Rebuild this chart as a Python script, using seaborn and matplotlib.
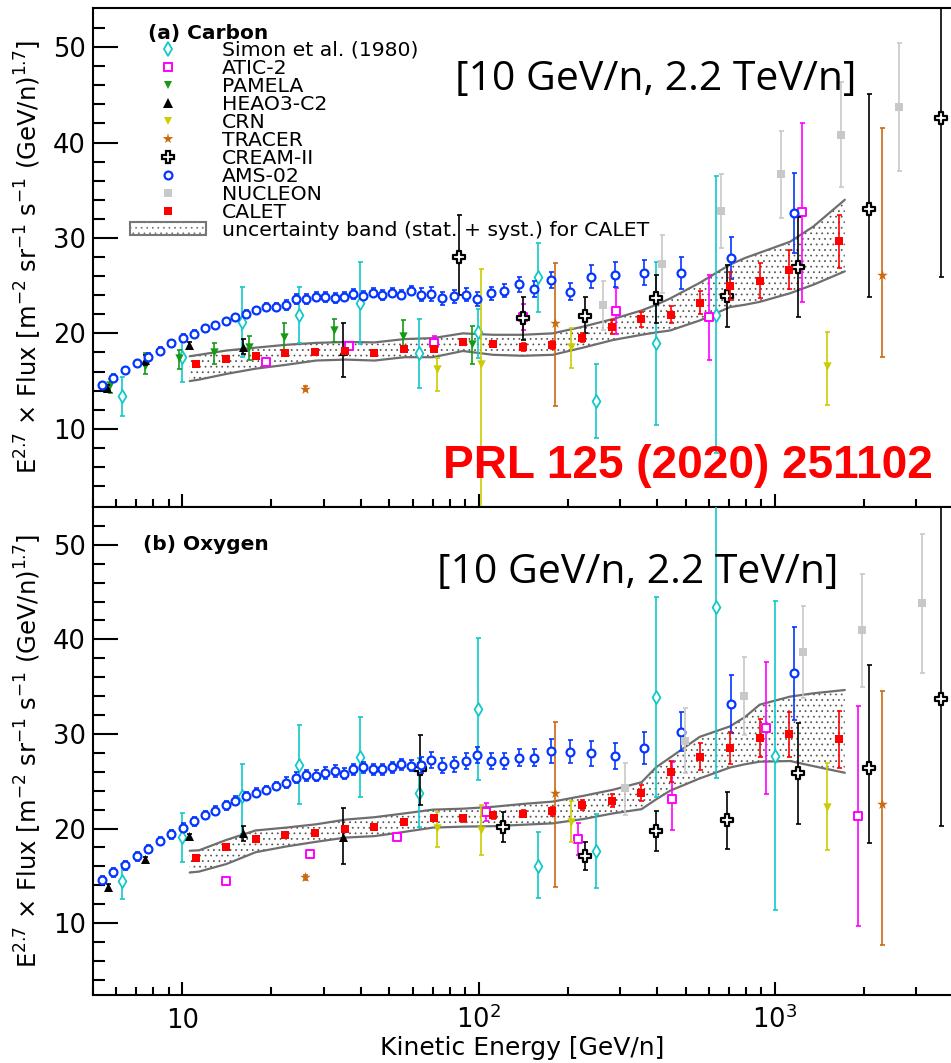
import numpy as np
import matplotlib
matplotlib.use("Agg")
import matplotlib.pyplot as plt
import seaborn as sns
from matplotlib.patches import Patch
from matplotlib.lines import Line2D
from matplotlib.ticker import FixedLocator, LogLocator, NullFormatter, FixedFormatter

# ---------------- data ----------------
# CALET bins (same for C and O)
calet_e = [11.15, 14.08, 17.74, 22.3, 28.1, 35.3, 44.4, 56.0, 70.5, 88.9, 112, 141,
           177, 224, 282, 354, 445, 561, 705, 890, 1117, 1648]
calet_c = [16.74, 17.29, 17.61, 17.96, 18.03, 18.1, 17.96, 18.38, 18.38, 19.08, 18.9, 18.59,
           18.8, 19.56, 20.65, 21.48, 21.94, 23.23, 24.97, 25.53, 26.65, 29.65]
calet_c_err = [0.2, 0.2, 0.2, 0.2, 0.2, 0.2, 0.25, 0.25, 0.3, 0.3, 0.35, 0.4,
               0.4, 0.45, 0.7, 0.8, 0.9, 1.2, 1.5, 1.8, 2.05, 2.8]
calet_o = [16.91, 18.0, 18.92, 19.27, 19.56, 19.98, 20.16, 20.69, 21.07, 21.07, 21.39, 21.57,
           21.82, 22.49, 22.94, 23.72, 26.01, 27.6, 28.48, 29.57, 29.96, 29.43]
calet_o_err = [0.2, 0.2, 0.2, 0.2, 0.25, 0.25, 0.25, 0.3, 0.3, 0.35, 0.35, 0.4,
               0.45, 0.55, 0.7, 0.85, 1.1, 1.4, 1.7, 2.05, 2.4, 3.0]

# CALET uncertainty band
band_e = [10.6, 11.4, 14.1, 17.7, 22.4, 28.3, 35.7, 44.6, 56.2, 70.1, 88.5, 112, 141, 178,
          225, 284, 355, 398, 443, 558, 705, 793, 889, 1125, 1349, 1722]
band_c_hi = [17.6, 17.75, 18.2, 18.5, 18.8, 19.0, 19.1, 19.05, 19.4, 19.5, 20.0, 19.85, 19.85, 20.0,
             20.7, 21.5, 22.4, 23.0, 23.65, 25.3, 27.2, 27.9, 28.45, 29.6, 31.2, 34.0]
band_c_lo = [15.0, 15.15, 15.75, 16.3, 16.7, 17.15, 17.25, 17.15, 17.5, 17.5, 18.15, 17.75, 17.65, 17.75,
             18.5, 19.3, 19.85, 20.1, 20.3, 21.35, 22.75, 23.0, 23.3, 24.2, 25.1, 26.5]
band_o_hi = [17.65, 17.7, 18.8, 19.8, 20.1, 20.45, 20.95, 21.2, 21.6, 22.0, 22.1, 22.3, 22.6, 22.85,
             23.45, 24.1, 24.9, 26.5, 27.5, 29.7, 30.8, 31.8, 33.1, 33.95, 34.3, 34.65]
band_o_lo = [15.35, 15.45, 16.25, 17.5, 18.1, 18.6, 19.05, 19.2, 19.65, 20.1, 20.2, 20.25, 20.4, 20.55,
             21.0, 21.6, 22.05, 23.1, 24.0, 25.3, 26.45, 26.8, 27.07, 27.14, 26.6, 25.9]

# AMS-02 (same bins for C and O)
ams_e = [5.35, 5.86, 6.42, 7.06, 7.69, 8.43, 9.2, 10.05, 10.98, 11.9, 12.9, 14.0, 15.1, 16.4,
         17.7, 19.2, 20.8, 22.4, 24.2, 26.1, 28.2, 30.4, 32.7, 35.1, 37.8, 40.8, 43.9, 47.3,
         51.0, 54.9, 59.2, 64.0, 69.2, 75.4, 82.5, 90.4, 98.9, 110, 122, 137, 154, 176, 203,
         239, 289, 362, 481, 711, 1159]
ams_c = [14.54, 15.34, 16.11, 16.88, 17.57, 18.2, 18.94, 19.56, 19.95, 20.54, 20.89, 21.27, 21.69, 22.08,
         22.43, 22.78, 22.8, 22.98, 23.58, 23.6, 23.86, 23.79, 23.72, 23.86, 24.14, 23.96, 24.28, 24.0,
         24.28, 24.07, 24.49, 24.07, 24.14, 23.68, 23.89, 24.07, 23.61, 24.2, 24.49, 25.15, 24.66, 25.57,
         24.38, 25.92, 26.13, 26.37, 26.3, 27.94, 32.59]
ams_c_err = [0.35] * 17 + [0.5] * 14 + [0.7] * 8 + [0.8, 0.8, 0.85, 0.9, 1.2, 1.3, 1.35, 1.7, 2.2, 4.2]
ams_o = [14.55, 15.36, 16.1, 17.05, 17.83, 18.68, 19.38, 20.09, 20.76, 21.43, 21.89, 22.45, 22.94, 23.44,
         23.79, 24.07, 24.5, 24.85, 25.38, 25.62, 25.59, 25.87, 26.08, 25.8, 26.26, 26.47, 26.26, 26.26,
         26.47, 26.79, 26.65, 26.72, 27.25, 26.65, 26.79, 27.14, 27.78, 27.14, 27.14, 27.49, 27.49, 28.23,
         28.13, 27.95, 27.67, 28.48, 30.25, 33.17, 36.42]
ams_o_err = [0.45] * 17 + [0.6] * 14 + [0.8] * 8 + [0.9, 0.9, 1.25, 1.25, 1.3, 1.4, 1.7, 2.1, 3.1, 4.9]

# Simon et al. (1980)
simon_c_e = [6.25, 9.97, 15.95, 24.8, 39.9, 62.8, 99.6, 158.7, 250, 398, 632]
simon_c = [13.39, 17.5, 21.24, 21.94, 23.16, 17.92, 20.1, 25.95, 12.93, 18.97, 21.94]
simon_c_hi = [15.41, 19.14, 24.9, 24.9, 27.45, 21.52, 22.53, 29.44, 16.8, 27.52, 36.49]
simon_c_lo = [11.36, 14.88, 17.57, 18.97, 18.87, 14.26, 17.4, 22.28, 9.02, 10.42, 7.45]
simon_o_e = [6.25, 9.97, 15.95, 24.8, 39.9, 62.8, 99.6, 158.7, 250, 398, 632, 1000]
simon_o = [14.44, 19.13, 23.4, 26.72, 27.53, 23.8, 32.61, 16.03, 17.62, 33.95, 43.4, 27.7]
simon_o_hi = [16.21, 21.6, 26.79, 30.95, 31.76, 27.42, 40.19, 19.66, 21.53, 44.53, 60.0, 44.11]
simon_o_lo = [12.5, 16.49, 19.4, 22.59, 23.3, 20.19, 25.13, 12.61, 13.67, 23.35, 25.31, 11.37]

# ATIC-2
atic_c_e = [19.17, 36.5, 71.0, 141, 290, 600, 1231]
atic_c = [16.95, 18.69, 19.04, 21.76, 22.39, 21.69, 32.69]
atic_c_hi = [17.2, 18.95, 19.7, 23.1, 24.73, 26.13, 42.08]
atic_c_lo = [16.7, 18.45, 18.4, 20.4, 19.95, 17.23, 23.33]
atic_o_e = [14.1, 27.0, 53.0, 105.6, 216.6, 450, 930, 1901]
atic_o = [14.44, 17.3, 19.06, 21.78, 18.85, 23.12, 30.6, 21.36]
atic_o_hi = [14.7, 17.6, 19.35, 22.66, 20.55, 27.07, 37.65, 32.96]
atic_o_lo = [14.2, 17.0, 18.8, 20.83, 17.2, 19.84, 23.65, 9.72]

# PAMELA (carbon only)
pamela_c_e = [5.69, 7.48, 9.77, 12.8, 16.8, 22.0, 32.6, 55.5, 95.2]
pamela_c = [14.54, 16.53, 17.4, 18.0, 18.55, 19.6, 20.37, 19.77, 18.86]
pamela_c_hi = [15.2, 17.92, 18.27, 19.04, 19.74, 21.07, 21.48, 21.41, 20.72]
pamela_c_lo = [13.8, 15.76, 16.28, 16.77, 17.23, 18.2, 19.14, 18.27, 16.77]

# HEAO3-C2
heao_c_e = [5.58, 7.48, 10.56, 16.07, 34.8]
heao_c = [14.29, 17.23, 18.8, 18.62, 18.1]
heao_c_hi = [14.55, 17.73, 19.05, 19.42, 21.13]
heao_c_lo = [14.05, 16.73, 18.55, 17.82, 15.41]
heao_o_e = [5.6, 7.48, 10.56, 16.07, 35.0]
heao_o = [13.84, 16.77, 19.2, 19.49, 19.14]
heao_o_hi = [14.1, 17.0, 19.45, 20.3, 22.13]
heao_o_lo = [13.6, 16.5, 18.95, 18.7, 16.24]

# CRN
crn_e = [72.5, 102, 205.6, 1503]
crn_c = [16.28, 16.8, 18.62, 16.53]
crn_c_hi = [17.4, 26.72, 20.54, 20.19]
crn_c_lo = [14.0, 0.5, 16.35, 12.51]
crn_o = [20.02, 19.84, 20.72, 22.31]
crn_o_hi = [21.78, 22.49, 22.91, 26.89]
crn_o_lo = [18.01, 17.2, 18.61, 17.72]

# TRACER
tracer_e = [25.9, 180.6, 2305]
tracer_c = [14.19, 21.06, 26.13]
tracer_c_hi = [14.45, 27.35, 41.48]
tracer_c_lo = [13.95, 12.34, 17.57]
tracer_o = [14.83, 23.79, 22.59]
tracer_o_hi = [15.1, 31.3, 34.59]
tracer_o_lo = [14.55, 13.84, 7.67]

# CREAM-II
cream_c_e = [85.8, 141, 228, 398, 690, 1199, 2083, 3628]
cream_c = [28.05, 21.59, 21.87, 23.69, 23.9, 27.0, 33.0, 42.53]
cream_c_hi = [32.4, 23.86, 23.79, 26.13, 27.17, 32.2, 45.05, 60.0]
cream_c_lo = [24.03, 19.32, 20.02, 21.13, 20.65, 21.76, 23.86, 25.95]
cream_o_e = [63.7, 121, 228, 396, 690, 1199, 2083, 3628]
cream_o = [26.26, 20.12, 17.09, 19.73, 20.86, 25.84, 26.44, 33.67]
cream_o_hi = [29.89, 21.71, 18.54, 21.85, 23.9, 31.2, 37.3, 60.0]
cream_o_lo = [22.49, 18.61, 15.61, 17.62, 17.83, 20.5, 18.43, 20.3]

# NUCLEON
nucleon_c_e = [263, 417, 660, 1048, 1667, 2630]
nucleon_c = [22.92, 27.24, 32.83, 36.67, 40.79, 43.75]
nucleon_c_hi = [25.5, 30.31, 36.7, 41.2, 46.37, 50.38]
nucleon_c_lo = [20.37, 24.2, 28.92, 32.06, 35.31, 37.05]
nucleon_o_e = [311, 497, 788, 1246, 1972, 3131]
nucleon_o = [24.25, 29.29, 34.05, 38.64, 41.0, 43.83]
nucleon_o_hi = [26.96, 32.72, 38.18, 43.55, 46.93, 51.16]
nucleon_o_lo = [21.43, 25.84, 29.89, 33.77, 35.01, 36.5]

legend_labels = ["Simon et al. (1980)", "ATIC-2", "PAMELA", "HEAO3-C2", "CRN", "TRACER",
                 "CREAM-II", "AMS-02", "NUCLEON", "CALET",
                 "uncertainty band (stat. + syst.) for CALET"]
x_ticks = [10, 100, 1000]
x_ticklabels = ["10", r"10$^{2}$", r"10$^{3}$"]
y_ticks = [10, 20, 30, 40, 50]

# ---------------- style ----------------
sns.set_theme(style="white")
plt.rcParams["font.family"] = ["DejaVu Sans"]
plt.rcParams["mathtext.fontset"] = "dejavusans"
plt.rcParams["hatch.linewidth"] = 0.55
plt.rcParams["hatch.color"] = "#555555"

CYAN = "#12C9C9"
MAGENTA = "#FF00FF"
GREEN = "#159A15"
YELLOW = "#CCCC00"
ORANGE = "#CC6A10"
BLUE = "#0536FF"
GRAY = "#C8C8C8"
RED = "#FF0000"
BAND_LINE = "#6E6E6E"

W, H = 951, 1063
fig = plt.figure(figsize=(W / 100, H / 100), dpi=100)
ax_c = fig.add_axes([93 / W, 1 - 507 / H, (982 - 93) / W, (507 - 8) / H])
ax_o = fig.add_axes([93 / W, 1 - 995 / H, (982 - 93) / W, (995 - 507) / H])

styles = {
    "simon":   dict(marker="d", s=44, fc="white", ec=CYAN, lw=1.3, color=CYAN, z=3.0),
    "atic":    dict(marker="s", s=26, fc="white", ec=MAGENTA, lw=1.4, color=MAGENTA, z=3.2),
    "pamela":  dict(marker="v", s=36, fc=GREEN, ec=GREEN, lw=0, color=GREEN, z=3.4),
    "heao":    dict(marker="^", s=42, fc="black", ec="black", lw=0, color="black", z=3.6),
    "crn":     dict(marker="v", s=36, fc=YELLOW, ec=YELLOW, lw=0, color=YELLOW, z=3.8),
    "tracer":  dict(marker="*", s=64, fc=ORANGE, ec=ORANGE, lw=0, color=ORANGE, z=4.0),
    "cream":   dict(marker="P", s=72, fc="white", ec="black", lw=1.6, color="black", z=4.2),
    "ams":     dict(marker="o", s=32, fc="white", ec=BLUE, lw=1.6, color=BLUE, z=4.4),
    "nucleon": dict(marker="s", s=26, fc=GRAY, ec=GRAY, lw=0, color=GRAY, z=4.6),
    "calet":   dict(marker="s", s=34, fc=RED, ec=RED, lw=0, color=RED, z=5.0),
}


def draw(ax, key, x, y, lo, hi):
    st = styles[key]
    x = np.asarray(x, float)
    y = np.asarray(y, float)
    lo = np.asarray(lo, float)
    hi = np.asarray(hi, float)
    ax.errorbar(x, y, yerr=[y - lo, hi - y], fmt="none", ecolor=st["color"],
                elinewidth=1.2, capsize=1.8, capthick=1.2, zorder=st["z"])
    sns.scatterplot(x=x, y=y, ax=ax, marker=st["marker"], s=st["s"],
                    facecolor=st["fc"], edgecolor=st["ec"], linewidth=st["lw"],
                    zorder=st["z"] + 0.05, legend=False)


def draw_band(ax, lo, hi):
    ax.fill_between(band_e, lo, hi, facecolor="none", edgecolor="#555555",
                    hatch="...", linewidth=0, zorder=1)
    sns.lineplot(x=band_e, y=hi, ax=ax, color=BAND_LINE, linewidth=1.6,
                 estimator=None, sort=False, legend=False, zorder=1.5)
    sns.lineplot(x=band_e, y=lo, ax=ax, color=BAND_LINE, linewidth=1.6,
                 estimator=None, sort=False, legend=False, zorder=1.5)


for ax in (ax_c, ax_o):
    ax.set_xscale("log")

# Carbon
draw_band(ax_c, band_c_lo, band_c_hi)
draw(ax_c, "simon", simon_c_e, simon_c, simon_c_lo, simon_c_hi)
draw(ax_c, "atic", atic_c_e, atic_c, atic_c_lo, atic_c_hi)
draw(ax_c, "pamela", pamela_c_e, pamela_c, pamela_c_lo, pamela_c_hi)
draw(ax_c, "heao", heao_c_e, heao_c, heao_c_lo, heao_c_hi)
draw(ax_c, "crn", crn_e, crn_c, crn_c_lo, crn_c_hi)
draw(ax_c, "tracer", tracer_e, tracer_c, tracer_c_lo, tracer_c_hi)
draw(ax_c, "cream", cream_c_e, cream_c, cream_c_lo, cream_c_hi)
draw(ax_c, "ams", ams_e, ams_c, np.subtract(ams_c, ams_c_err), np.add(ams_c, ams_c_err))
draw(ax_c, "nucleon", nucleon_c_e, nucleon_c, nucleon_c_lo, nucleon_c_hi)
draw(ax_c, "calet", calet_e, calet_c, np.subtract(calet_c, calet_c_err), np.add(calet_c, calet_c_err))

# Oxygen
draw_band(ax_o, band_o_lo, band_o_hi)
draw(ax_o, "simon", simon_o_e, simon_o, simon_o_lo, simon_o_hi)
draw(ax_o, "atic", atic_o_e, atic_o, atic_o_lo, atic_o_hi)
draw(ax_o, "heao", heao_o_e, heao_o, heao_o_lo, heao_o_hi)
draw(ax_o, "crn", crn_e, crn_o, crn_o_lo, crn_o_hi)
draw(ax_o, "tracer", tracer_e, tracer_o, tracer_o_lo, tracer_o_hi)
draw(ax_o, "cream", cream_o_e, cream_o, cream_o_lo, cream_o_hi)
draw(ax_o, "ams", ams_e, ams_o, np.subtract(ams_o, ams_o_err), np.add(ams_o, ams_o_err))
draw(ax_o, "nucleon", nucleon_o_e, nucleon_o, nucleon_o_lo, nucleon_o_hi)
draw(ax_o, "calet", calet_e, calet_o, np.subtract(calet_o, calet_o_err), np.add(calet_o, calet_o_err))

# axes formatting
ax_c.set_ylim(1.8, 54.1)
ax_o.set_ylim(2.4, 54.0)
ylabel = r"E$^{2.7}$ $\times$ Flux [m$^{-2}$ sr$^{-1}$ s$^{-1}$ (GeV/n)$^{1.7}$]"
for ax in (ax_c, ax_o):
    ax.set_xlim(5, 5000)
    ax.set_facecolor("white")
    ax.grid(False)
    ax.xaxis.set_major_locator(FixedLocator(x_ticks))
    ax.xaxis.set_minor_locator(LogLocator(base=10, subs=np.arange(2, 10), numticks=20))
    ax.xaxis.set_minor_formatter(NullFormatter())
    ax.yaxis.set_major_locator(FixedLocator(y_ticks))
    ax.yaxis.set_minor_locator(FixedLocator(np.arange(4, 54, 2)))
    ax.tick_params(axis="both", which="both", direction="in", color="black", width=1.5,
                   bottom=True, left=True, top=False, right=False)
    ax.tick_params(axis="y", which="major", length=18, labelsize=18.5, pad=5, labelcolor="black")
    ax.tick_params(axis="y", which="minor", length=8.6)
    ax.tick_params(axis="x", which="major", length=9.4)
    ax.tick_params(axis="x", which="minor", length=5.8)
    for sp in ax.spines.values():
        sp.set_linewidth(1.5)
        sp.set_color("black")
    ax.set_ylabel(ylabel, fontsize=17.5, color="black")
    ax.yaxis.set_label_coords((44 - 93) / 889, 0.5)

ax_c.tick_params(axis="x", labelbottom=False)
ax_o.xaxis.set_major_formatter(FixedFormatter(x_ticklabels))
ax_o.tick_params(axis="x", which="major", labelsize=18.5, pad=24, labelcolor="black")
for lab in ax_o.get_xticklabels():
    lab.set_verticalalignment("baseline")
ax_o.set_xlabel("Kinetic Energy [GeV/n]", fontsize=18, color="black", va="baseline")
ax_o.xaxis.set_label_coords((522 - 93) / 889, (995 - 1055) / 488)

# legend
handles = []
for key in ["simon", "atic", "pamela", "heao", "crn", "tracer", "cream", "ams", "nucleon", "calet"]:
    st = styles[key]
    handles.append(Line2D([], [], ls="none", marker=st["marker"], markersize=np.sqrt(st["s"]),
                          markerfacecolor=st["fc"], markeredgecolor=st["ec"],
                          markeredgewidth=st["lw"]))
handles.append(Patch(facecolor="white", edgecolor="#777777", hatch="...", linewidth=1.5))
fs = 14.7
fs_px = fs * 100 / 72
leg = ax_c.legend(handles, legend_labels, loc="upper left",
                  bbox_to_anchor=(130 / W, 1 - 41 / H), bbox_transform=fig.transFigure,
                  frameon=False, fontsize=fs, handlelength=76 / fs_px, handleheight=12 / fs_px,
                  handletextpad=16 / fs_px, labelspacing=-0.05, borderpad=0, borderaxespad=0)
for t in leg.get_texts():
    t.set_color("black")

# panel labels and annotations
fig.text(148 / W, 1 - 39 / H, "(a) Carbon", fontsize=14.5, fontweight="bold",
         ha="left", va="baseline", color="black")
fig.text(143 / W, 1 - 550 / H, "(b) Oxygen", fontsize=14.5, fontweight="bold",
         ha="left", va="baseline", color="black")
fig.text(455 / W, 1 - 90 / H, "[10 GeV/n, 2.2 TeV/n]", fontsize=29.5, family="Open Sans",
         ha="left", va="baseline", color="black")
fig.text(437 / W, 1 - 583 / H, "[10 GeV/n, 2.2 TeV/n]", fontsize=29.5, family="Open Sans",
         ha="left", va="baseline", color="black")
fig.text(443 / W, 1 - 478 / H, "PRL 125 (2020) 251102", fontsize=33, fontweight="bold",
         family="Liberation Sans", ha="left", va="baseline", color="#FF0000")

fig.savefig("out.png", dpi=100, facecolor="white")
